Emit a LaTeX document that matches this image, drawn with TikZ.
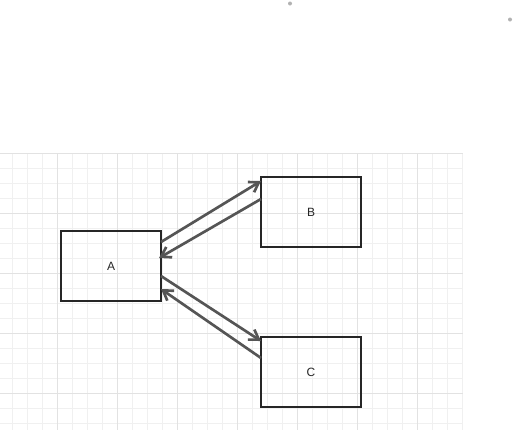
\documentclass[tikz,border=0pt]{standalone}
\usepackage{fontspec}
\setmainfont{Liberation Sans}
\usetikzlibrary{arrows.meta}
\definecolor{minorgrid}{HTML}{F0F0F0}
\definecolor{majorgrid}{HTML}{E2E2E2}
\definecolor{arrowgrey}{HTML}{555555}
\definecolor{boxline}{HTML}{262626}
\tikzset{
  box/.style={draw=boxline, line width=1.5pt, minimum width=75pt, minimum height=52pt, inner sep=0pt, font=\fontsize{9}{11}\selectfont, text=black!85},
  link/.style={draw=arrowgrey, line width=2pt, -{Straight Barb[length=7pt,width=9pt,line width=2pt]}},
}
\begin{document}
\begin{tikzpicture}[x=0.75pt,y=-0.75pt]
\useasboundingbox (0,0) rectangle (513,430);
\fill[white] (0,0) rectangle (513,430);
% grid
\foreach \x in {12,27,...,462} \draw[minorgrid, line width=0.75pt] (\x,153) -- (\x,430);
\foreach \y in {168,183,...,430} \draw[minorgrid, line width=0.75pt] (0,\y) -- (463,\y);
\foreach \x in {57,117,...,462} \draw[majorgrid, line width=0.75pt] (\x,153) -- (\x,430);
\foreach \y in {153,213,...,430} \draw[majorgrid, line width=0.75pt] (0,\y) -- (463,\y);
% dots
\fill[gray!60] (290,3.5) circle (2);
\fill[gray!60] (510,19.5) circle (2);
% boxes
\node[box] (A) at (111,266) {A};
\node[box] (B) at (311,212) {B};
\node[box] (C) at (311,372) {C};
\coordinate (a1) at (161,242);
\coordinate (b1) at (261,181);
\coordinate (b2) at (261,199);
\coordinate (a2) at (159,258);
\coordinate (a3) at (161,276);
\coordinate (c1) at (261,341);
\coordinate (c2) at (261,358);
\coordinate (a4) at (161,289);
\draw[link] (a1) -- (b1);
\draw[link] (b2) -- (a2);
\draw[link] (a3) -- (c1);
\draw[link] (c2) -- (a4);
\end{tikzpicture}
\end{document}
